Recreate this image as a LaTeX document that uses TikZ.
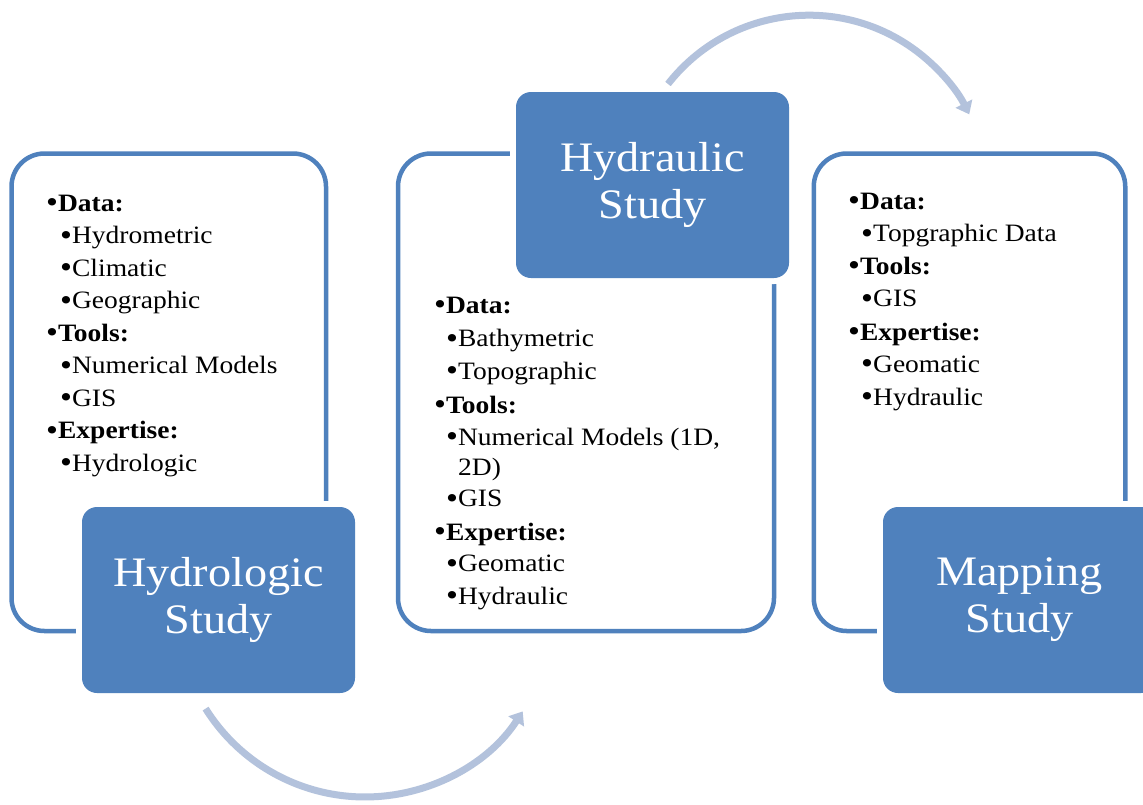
\documentclass[tikz,border=0pt]{standalone}
\usepackage{fontspec}
\setmainfont{Liberation Serif}[FakeStretch=1.1]
\usetikzlibrary{arrows.meta}
\definecolor{boxblue}{HTML}{4F81BD}
\definecolor{arrowblue}{HTML}{B3C2DC}
\newcommand\mybul{\raisebox{-1.5pt}{\fontsize{31}{30}\selectfont •}}
\newcommand\lowered[1]{\raisebox{-3pt}{#1}}
\tikzset{
  framebox/.style={draw=boxblue, line width=4.5pt, rounded corners=33pt, inner sep=0pt},
  titlebox/.style={fill=boxblue, preaction={draw=white, line width=12pt}, rounded corners=15pt,
    minimum width=273pt, minimum height=186pt, inner sep=0pt, text=white, align=center,
    font=\fontsize{42}{47}\selectfont},
  topitem/.style={anchor=base west, inner sep=0pt, font=\fontsize{25}{30}\selectfont},
  subitem/.style={anchor=base west, inner sep=0pt, font=\fontsize{25}{30}\selectfont},
  cyclearrow/.style={draw=arrowblue, line width=7pt, -{Triangle[length=12pt,width=18pt]}},
}
\begin{document}
\begin{tikzpicture}[x=1pt,y=-1pt]
\clip (0,0) rectangle (1143,804);
\fill[white] (0,0) rectangle (1143,804);

% frames
\node[framebox, minimum width=314.5pt, minimum height=477.5pt] (hydroframe) at (168.75,392.25) {};
\node[framebox, minimum width=376pt, minimum height=477.5pt] (hydrauframe) at (586,392.25) {};
\node[framebox, minimum width=311.5pt, minimum height=477.5pt] (mapframe) at (969.5,392.25) {};

% cycle arrows
\coordinate (a1s) at (205.6,708.6);
\coordinate (a2s) at (668,84);
\draw[cyclearrow] (a1s) arc[start angle=148, end angle=33, radius=188];
\draw[cyclearrow] (a2s) arc[start angle=-142, end angle=-26.5, radius=179];

% title boxes
\node[titlebox] (hydrologic) at (218.5,600) {\lowered{Hydrologic}\\\lowered{Study}};
\node[titlebox] (hydraulic) at (652.5,185) {Hydraulic\\Study};
\node[titlebox] (mapping) at (1019.5,600) {\lowered{Mapping}\\\lowered{Study}};

% left list
\node[topitem] (l1) at (46,211) {\mybul\textbf{Data:}};
\node[subitem] (l2) at (60,243.5) {\mybul Hydrometric};
\node[subitem] (l3) at (60,276) {\mybul Climatic};
\node[subitem] (l4) at (60,308.5) {\mybul Geographic};
\node[topitem] (l5) at (46,341) {\mybul\textbf{Tools:}};
\node[subitem] (l6) at (60,373.5) {\mybul Numerical Models};
\node[subitem] (l7) at (60,406) {\mybul GIS};
\node[topitem] (l8) at (46,438.5) {\mybul\textbf{Expertise:}};
\node[subitem] (l9) at (60,471) {\mybul Hydrologic};

% middle list
\node[topitem] (m1) at (434,313.3) {\mybul\textbf{Data:}};
\node[subitem] (m2) at (446,346.7) {\mybul Bathymetric};
\node[subitem] (m3) at (446,379.3) {\mybul Topographic};
\node[topitem] (m4) at (434,413) {\mybul\textbf{Tools:}};
\node[subitem] (m5) at (446,445) {\mybul Numerical Models (1D,};
\node[subitem] (m6) at (458,475) {2D)};
\node[subitem] (m7) at (446,506.7) {\mybul GIS};
\node[topitem] (m8) at (434,540) {\mybul\textbf{Expertise:}};
\node[subitem] (m9) at (446,571.7) {\mybul Geomatic};
\node[subitem] (m10) at (446,604.3) {\mybul Hydraulic};

% right list
\node[topitem] (r1) at (848,209) {\mybul\textbf{Data:}};
\node[subitem] (r2) at (861,241.7) {\mybul Topgraphic Data};
\node[topitem] (r3) at (848,274) {\mybul\textbf{Tools:}};
\node[subitem] (r4) at (861,306.7) {\mybul GIS};
\node[topitem] (r5) at (848,340) {\mybul\textbf{Expertise:}};
\node[subitem] (r6) at (861,372) {\mybul Geomatic};
\node[subitem] (r7) at (861,405) {\mybul Hydraulic};
\end{tikzpicture}
\end{document}
